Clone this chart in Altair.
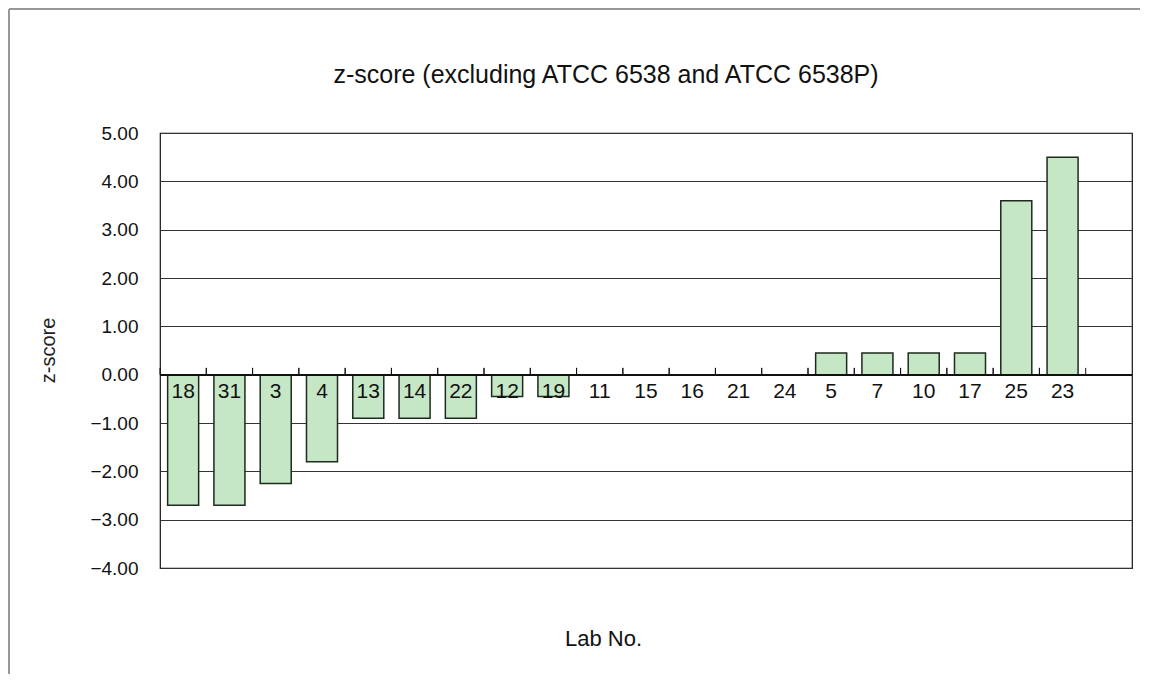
import altair as alt
import pandas as pd

labs = ["18", "31", "3", "4", "13", "14", "22", "12", "19", "11",
        "15", "16", "21", "24", "5", "7", "10", "17", "25", "23"]
zscores = [-2.70, -2.70, -2.25, -1.80, -0.90, -0.90, -0.90, -0.45, -0.45, 0.0,
           0.0, 0.0, 0.0, 0.0, 0.45, 0.45, 0.45, 0.45, 3.60, 4.50]
y_ticks = [-4, -3, -2, -1, 0, 1, 2, 3, 4, 5]
title_text = "z-score (excluding ATCC 6538 and ATCC 6538P)"

df = pd.DataFrame({"lab": labs, "z": zscores})

FONT = "Liberation Sans"
# one empty slot at the right end of the category axis, as in the original
xscale = alt.Scale(domain=labs + [" "], paddingInner=0, paddingOuter=0)
yscale = alt.Scale(domain=[-4, 5], nice=False, zero=False)

base = alt.Chart(df)

bars = base.mark_bar(
    width={"band": 0.67}, fill="#c6e7c6", stroke="#1e2a1e", strokeWidth=1.5
).encode(
    x=alt.X("lab:N", scale=xscale,
            axis=alt.Axis(labels=False, ticks=False, domain=False, grid=False,
                          title="Lab No.", titleFont=FONT, titleFontSize=22,
                          titleFontWeight="normal", titleColor="#111",
                          titleX=443, titleY=70, titleBaseline="middle",
                          titleAlign="center")),
    y=alt.Y("z:Q", scale=yscale,
            axis=alt.Axis(values=y_ticks, format=".2f", grid=True,
                          gridColor="#333", gridWidth=1, domain=False,
                          ticks=False, labelFont=FONT, labelFontSize=19,
                          labelColor="#111", labelPadding=22,
                          title="z-score", titleFont=FONT, titleFontSize=20,
                          titleFontWeight="normal", titleColor="#222",
                          titleX=-112, titleY=217, titleAlign="center",
                          titleBaseline="middle")),
)

zero_line = base.mark_rule(color="#111", strokeWidth=1.2).encode(
    y=alt.datum(0, scale=yscale)
)

ticks_l = base.mark_rule(color="#111", strokeWidth=1).encode(
    x=alt.X("lab:N", scale=xscale, bandPosition=0),
    y=alt.datum(0),
    y2=alt.datum(0.14),
)
ticks_r = base.mark_rule(color="#111", strokeWidth=1).encode(
    x=alt.X("lab:N", scale=xscale, bandPosition=1),
    y=alt.datum(0),
    y2=alt.datum(0.14),
)

labels = base.mark_text(font=FONT, fontSize=21, color="#111",
                        baseline="middle", align="center").encode(
    x=alt.X("lab:N", scale=xscale, bandPosition=0.5),
    y=alt.datum(-0.36),
    text="lab:N",
)

title = alt.Chart(pd.DataFrame({"t": [title_text]})).mark_text(
    font=FONT, fontSize=25, color="#111", baseline="middle", align="center"
).encode(x=alt.value(446), y=alt.value(-58), text="t:N")

frame_top = base.mark_rule(color="#999", strokeWidth=1.5).encode(
    x=alt.value(-151), x2=alt.value(994), y=alt.value(-124)
)
frame_left = base.mark_rule(color="#999", strokeWidth=1.5).encode(
    x=alt.value(-151), y=alt.value(-124), y2=alt.value(541)
)

chart = alt.layer(
    bars, zero_line, ticks_l, ticks_r, labels, title, frame_top, frame_left
).properties(
    width=972,
    height=435,
    autosize=alt.AutoSizeParams(type="none"),
    padding={"left": 152, "top": 125, "right": 8, "bottom": 106},
).configure_view(
    stroke="#111", strokeWidth=1.2, fill="white"
)

chart.save("out.html", embed_options={"renderer": "svg", "actions": False})
